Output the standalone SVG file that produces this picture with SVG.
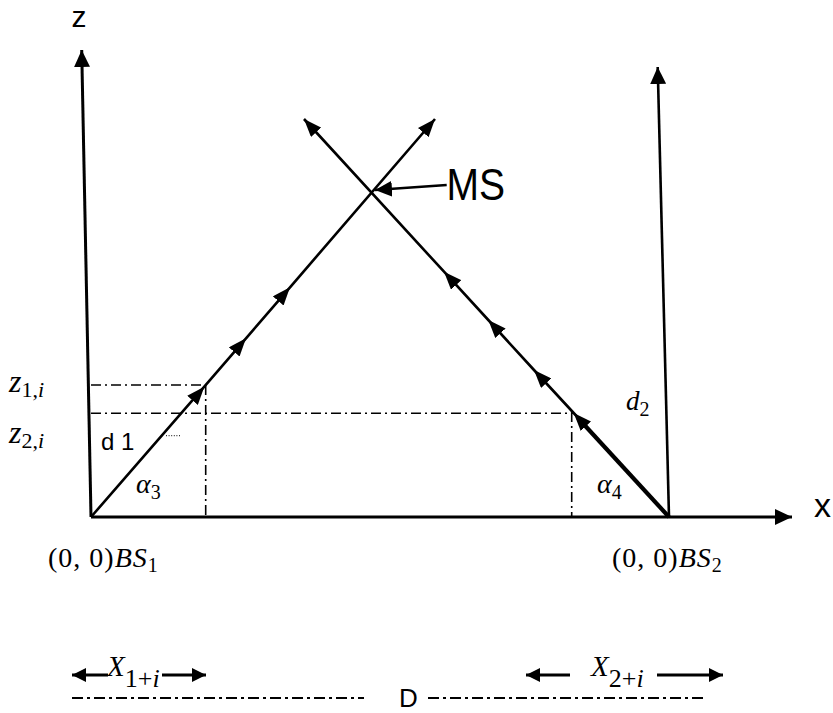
<svg xmlns="http://www.w3.org/2000/svg" width="833" height="713" viewBox="0 0 833 713">
<style>
.ln{fill:none;stroke:#000;stroke-width:2.6;stroke-linecap:butt}
.ax{fill:none;stroke:#000;stroke-width:3}
.dd{fill:none;stroke:#000;stroke-width:1.6;stroke-dasharray:10 4 2 4}
.dd2{fill:none;stroke:#000;stroke-width:2;stroke-dasharray:11 4 3 4}
.sans{font-family:"Liberation Sans",Arial,sans-serif;fill:#000}
.m{font-family:"Liberation Serif","Times New Roman",serif;fill:#000}
.it{font-style:italic}
</style>
<defs>
<marker id="ah" markerUnits="userSpaceOnUse" markerWidth="17" markerHeight="16" refX="17" refY="8" orient="auto">
<path d="M0,0 L17,8 L0,16 z" fill="#000"/>
</marker>
<marker id="am" markerUnits="userSpaceOnUse" markerWidth="18" markerHeight="14" refX="18" refY="7" orient="auto">
<path d="M0,0 L18,7 L0,14 z" fill="#000"/>
</marker>
<marker id="ab" markerUnits="userSpaceOnUse" markerWidth="14" markerHeight="14" refX="14" refY="7" orient="auto">
<path d="M0,0 L14,7 L0,14 z" fill="#000"/>
</marker>
</defs>

<g id="axes">
<path id="z-axis" class="ax" d="M91,517 L81.7,50" marker-end="url(#ah)"/>
<path id="bs2-axis" class="ax" style="stroke-width:2.6" d="M669,517 L657.7,67" marker-end="url(#ah)"/>
<path id="x-axis" class="ax" d="M91,517 L792,517" marker-end="url(#ah)"/>
</g>

<g id="connectors">
<path id="ray1" class="ln" d="M91,517 L204.3,386.7 L246,338.3 L290,287.3 L435,119" marker-mid="url(#am)" marker-end="url(#am)"/>
<path id="ray2" class="ln" d="M669,517 L573.7,413 L534,370 L488.3,320 L444,271.7 L304,119" marker-mid="url(#am)" marker-end="url(#am)"/>
<path class="ln" style="stroke-width:4.2" d="M669,517 L578,418"/>
<path id="ms-pointer" class="ln" d="M446.7,185 L375,190" marker-end="url(#ah)"/>
</g>

<g id="guides">
<path class="dd" d="M91,385 H205"/>
<path class="dd" d="M91,413.3 H573"/>
<path class="dd" d="M205.7,385 V517"/>
<path class="dd" d="M571.7,412 V517"/>
<path d="M166,435.7 H180" fill="none" stroke="#000" stroke-width="1" stroke-dasharray="1 1.6"/>
</g>

<g id="labels">
<text class="sans" x="79" y="27" font-size="30" text-anchor="middle">z</text>
<text class="sans" x="822.5" y="516.7" font-size="34" text-anchor="middle">x</text>
<text class="sans" x="446.5" y="200" font-size="44" textLength="58.5" lengthAdjust="spacingAndGlyphs">MS</text>
<text class="sans" x="101" y="450" font-size="24">d 1</text>

<text class="m" x="9" y="391.7"><tspan class="it" font-size="32">z</tspan><tspan font-size="22" dy="5">1,</tspan><tspan class="it" font-size="22">i</tspan></text>
<text class="m" x="9" y="443.3"><tspan class="it" font-size="32">z</tspan><tspan font-size="22" dy="5">2,</tspan><tspan class="it" font-size="22">i</tspan></text>

<text class="m" x="136" y="493.3"><tspan class="it" font-size="28">α</tspan><tspan font-size="20" dy="6">3</tspan></text>
<text class="m" x="597" y="493.3"><tspan class="it" font-size="28">α</tspan><tspan font-size="20" dy="6">4</tspan></text>
<text class="m" x="626" y="410"><tspan class="it" font-size="27">d</tspan><tspan font-size="20" dy="6">2</tspan></text>

<text class="m" x="48" y="567" letter-spacing="1"><tspan font-size="28">(0, 0)</tspan><tspan class="it" font-size="28">BS</tspan><tspan font-size="20" dy="5">1</tspan></text>
<text class="m" x="612" y="567" letter-spacing="1"><tspan font-size="28">(0, 0)</tspan><tspan class="it" font-size="28">BS</tspan><tspan font-size="20" dy="5">2</tspan></text>

<text class="m" x="107" y="676"><tspan class="it" font-size="29">X</tspan><tspan font-size="26" dy="11">1+</tspan><tspan class="it" font-size="26">i</tspan></text>
<text class="m" x="591" y="676"><tspan class="it" font-size="29">X</tspan><tspan font-size="26" dy="11">2+</tspan><tspan class="it" font-size="26">i</tspan></text>
<text class="sans" x="399" y="707" font-size="26">D</text>
</g>

<g id="dimensions">
<path class="ax" d="M108,675 H72" marker-end="url(#ab)"/>
<path class="ax" d="M162,675 H206" marker-end="url(#ab)"/>
<path class="ax" d="M570,675 H526" marker-end="url(#ab)"/>
<path class="ax" d="M657,675 H723" marker-end="url(#ab)"/>
<path class="dd2" d="M72,698 H364"/>
<path class="dd2" d="M428,698 H703"/>
</g>
</svg>
